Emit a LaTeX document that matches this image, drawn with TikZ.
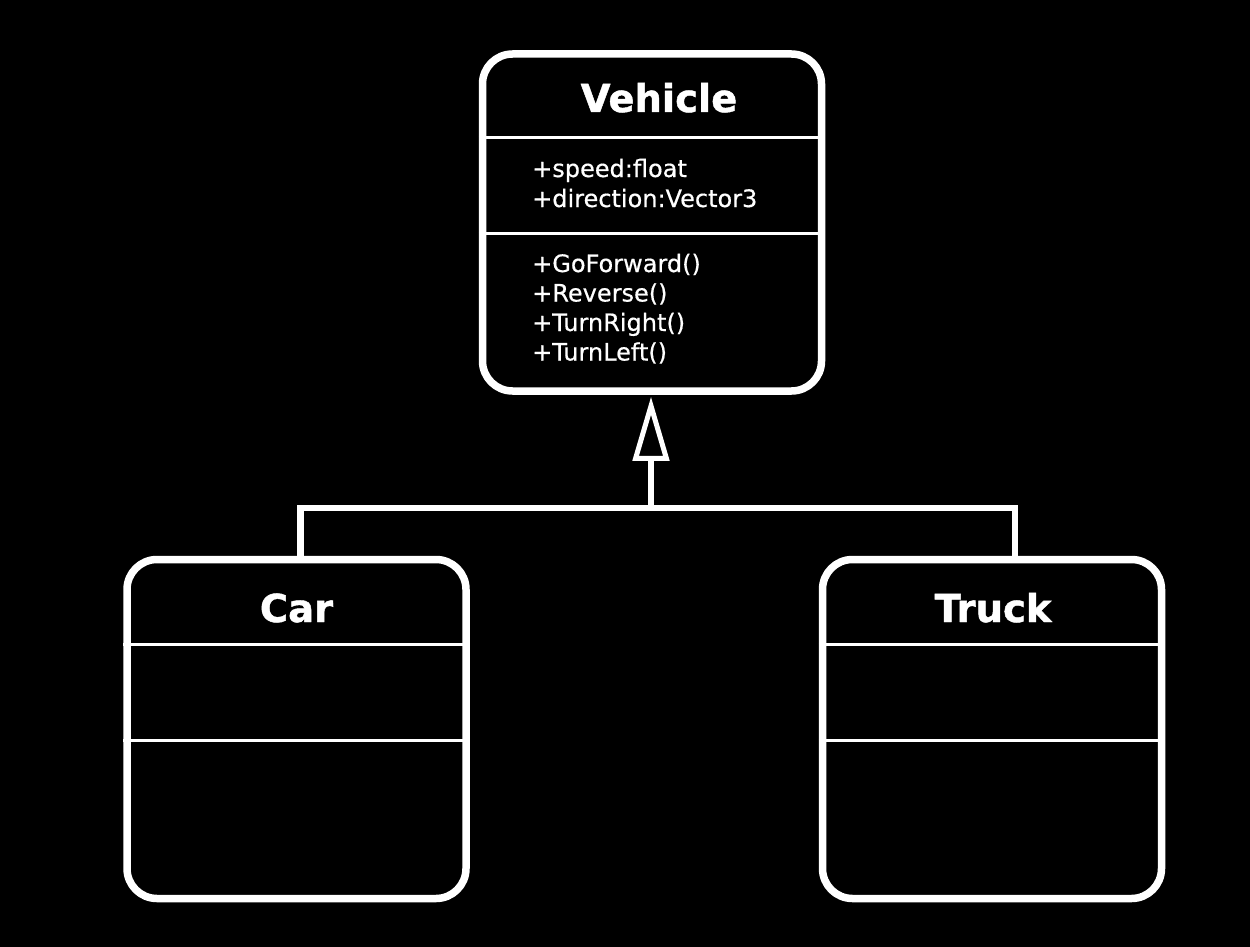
\documentclass[tikz,border=0pt]{standalone}
\usepackage{fontspec}
\setmainfont{DejaVu Sans}
\newfontfamily\headfont[FakeBold=1.2]{DejaVu Sans Bold}
\newfontfamily\memberfont[FakeBold=0.5]{DejaVu Sans}
\usetikzlibrary{arrows.meta, positioning}

\tikzset{
  classbox/.style={draw=white, line width=7.5pt, rounded corners=30pt,
      fill=black, minimum width=339pt, minimum height=339pt},
  divider/.style={draw=white, line width=3pt},
  classname/.style={text=white, anchor=base, inner sep=0pt,
      font=\headfont\bfseries\fontsize{38.5}{46}\selectfont},
  member/.style={text=white, anchor=base west, inner sep=0pt,
      font=\memberfont\fontsize{24}{30}\selectfont},
  inherit/.style={draw=white, line width=6.5pt},
}

\begin{document}
\begin{tikzpicture}[x=1pt, y=-1pt]
    \fill[black] (0,0) rectangle (1250,947);

    \node[classbox, minimum height=337pt] (vehicle) at (652,222.5) {};
    \node[classbox] (car) at (296.5,729) {};
    \node[classbox] (truck) at (992,729) {};

    % compartments
    \draw[divider] (vehicle.west |- 0,138) -- (vehicle.east |- 0,138);
    \draw[divider] (vehicle.west |- 0,233) -- (vehicle.east |- 0,233);
    \draw[divider] (car.west |- 0,644) -- (car.east |- 0,644);
    \draw[divider] (car.west |- 0,740) -- (car.east |- 0,740);
    \draw[divider] (truck.west |- 0,644) -- (truck.east |- 0,644);
    \draw[divider] (truck.west |- 0,740) -- (truck.east |- 0,740);

    \node[classname] (vehiclename) at (659,112) {Vehicle};
    \node[classname] (carname) at (296.5,622) {Car};
    \node[classname] (truckname) at (993,622) {Truck};

    \node[member] (speed) at (532,177) {+speed:float};
    \node[member] (direction) at (532,207) {+direction:Vector3};
    \node[member] (goforward) at (532,272) {+GoForward()};
    \node[member] (reverse) at (532,301.5) {+Reverse()};
    \node[member] (turnright) at (532,331) {+TurnRight()};
    \node[member] (turnleft) at (532,360.5) {+TurnLeft()};

    % generalization
    \coordinate (joint) at (651,508);
    \draw[inherit] ([xshift=4pt]car.north) |- (joint) -| ([xshift=23pt]truck.north);
    \draw[inherit, -{Triangle[open, length=64pt, width=36pt, line width=5pt 0]},
          shorten >=2pt] (joint) -- (joint |- vehicle.south);
\end{tikzpicture}
\end{document}
